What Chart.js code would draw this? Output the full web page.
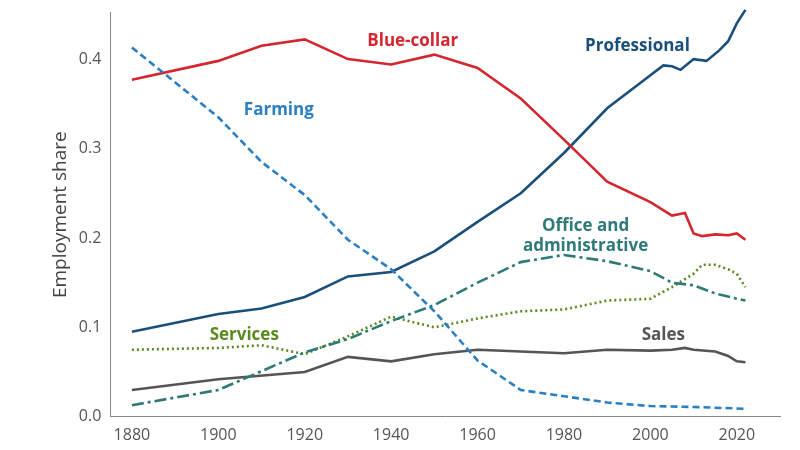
<!DOCTYPE html>
<html><head><meta charset="utf-8">
<script src="https://cdn.jsdelivr.net/npm/chart.js@4/dist/chart.umd.min.js"></script>
<style>html,body{margin:0;background:#fff}#w{width:800px;height:450px}</style>
</head><body><div id="w"><canvas id="c"></canvas></div>
<script>
const blueYears=[1880,1900,1910,1920,1930,1940,1950,1960,1970,1980,1990,2000,2005,2008,2010,2012,2015,2018,2020,2022];
const blueVals=[.377,.398,.415,.422,.400,.394,.405,.390,.356,.31,.263,.24,.225,.228,.205,.202,.204,.203,.205,.198];
const profYears=[1880,1900,1910,1920,1930,1940,1950,1960,1970,1980,1990,2000,2003,2005,2007,2010,2013,2016,2018,2020,2022];
const profVals=[.095,.115,.121,.134,.157,.162,.185,.218,.25,.295,.345,.382,.393,.392,.388,.4,.398,.41,.42,.44,.455];
const farmYears=[1880,1900,1910,1920,1930,1940,1950,1960,1970,1980,1990,2000,2010,2022];
const farmVals=[.413,.335,.285,.248,.198,.165,.118,.063,.03,.023,.016,.012,.011,.009];
const offYears=[1880,1900,1920,1930,1940,1950,1960,1970,1980,1990,2000,2005,2010,2015,2020,2022];
const offVals=[.013,.03,.072,.087,.107,.125,.15,.173,.181,.174,.163,.15,.147,.138,.132,.13];
const servYears=[1880,1900,1910,1920,1930,1940,1950,1960,1970,1980,1990,2000,2005,2010,2012,2015,2018,2020,2022];
const servVals=[.075,.077,.08,.07,.09,.112,.1,.11,.118,.12,.13,.132,.145,.16,.17,.17,.165,.16,.145];
const salesYears=[1880,1900,1920,1930,1940,1950,1960,1970,1980,1990,2000,2005,2008,2010,2015,2018,2020,2022];
const salesVals=[.03,.042,.05,.067,.062,.07,.075,.073,.071,.075,.074,.075,.077,.075,.073,.068,.062,.061];
const xTicks=[1880,1900,1920,1940,1960,1980,2000,2020];
const zip=(a,b)=>a.map((x,i)=>({x,y:b[i]}));
const ds=(d,c,dash)=>({data:d,borderColor:c,borderWidth:2.6,borderDash:dash,pointRadius:0,showLine:true,fill:false,tension:0,clip:false});
const labels=[
 {t:['Blue-collar'],x:1945,y:.42,c:'#d3262f'},
 {t:['Professional'],x:1997,y:.415,c:'#1a4f7a'},
 {t:['Farming'],x:1914,y:.343,c:'#2a7fc0'},
 {t:['Office and','administrative'],x:1985,y:.213,c:'#2e7a78'},
 {t:['Services'],x:1906,y:.091,c:'#5a8a1e'},
 {t:['Sales'],x:2003,y:.091,c:'#555555'}];
const lab={id:'lab',afterDatasetsDraw(ch){const g=ch.ctx,xs=ch.scales.x,ys=ch.scales.y;g.save();g.font='bold 17px "Open Sans"';g.textAlign='center';g.textBaseline='middle';
 labels.forEach(l=>{g.fillStyle=l.c;l.t.forEach((s,i)=>g.fillText(s,xs.getPixelForValue(l.x),ys.getPixelForValue(l.y)+i*20));});g.restore();}};
new Chart(document.getElementById('c'),{type:'scatter',
 data:{datasets:[ds(zip(farmYears,farmVals),'#2a7fc0',[7,4]),ds(zip(offYears,offVals),'#2e7a78',[12,4,3,4]),ds(zip(servYears,servVals),'#5a8a1e',[2,3]),ds(zip(salesYears,salesVals),'#555555',[]),ds(zip(blueYears,blueVals),'#d3262f',[]),ds(zip(profYears,profVals),'#1a4f7a',[])]},
 options:{responsive:true,maintainAspectRatio:false,animation:false,layout:{padding:{left:45,right:20,top:0,bottom:2}},
 plugins:{legend:{display:false},tooltip:{enabled:false}},
 scales:{x:{type:'linear',min:1875,max:2030,afterBuildTicks:s=>{s.ticks=xTicks.map(v=>({value:v}))},grid:{display:false,drawTicks:true,tickLength:6},border:{color:'#888'},ticks:{color:'#555',font:{size:16,family:'Open Sans'},callback:v=>String(v)}},
 y:{min:0,max:0.452,afterBuildTicks:s=>{s.ticks=[0,.1,.2,.3,.4].map(v=>({value:v}))},grid:{display:false,tickLength:6},border:{color:'#888'},ticks:{color:'#555',font:{size:16,family:'Open Sans'},callback:v=>v.toFixed(1)},title:{display:true,text:'Employment share',color:'#444',font:{size:19,family:'Open Sans'}}}}},
 plugins:[lab]});
</script></body></html>
